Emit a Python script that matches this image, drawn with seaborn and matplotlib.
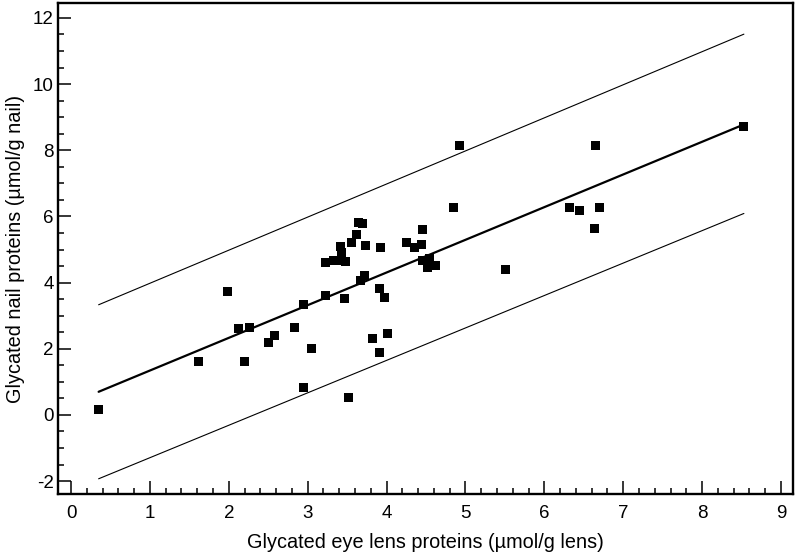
import numpy as np
import pandas
import seaborn as sns
from matplotlib import pyplot as plt
from matplotlib.ticker import MultipleLocator

lens_x = [0.35, 1.62, 1.99, 2.12, 2.20, 2.26, 2.50, 2.58, 2.83, 2.95,
          2.95, 3.05, 3.23, 3.47, 3.52, 3.67, 3.72, 3.82, 3.91, 3.91,
          3.97, 4.01, 3.22, 3.33, 3.38, 3.48, 3.42, 3.43, 3.55, 3.62,
          3.65, 3.70, 3.73, 3.92, 4.25, 4.36, 4.44, 4.46, 4.46, 4.54,
          4.52, 4.62, 4.92, 4.85, 5.51, 6.32, 6.45, 6.70, 6.65, 6.64,
          8.53]
nail_y = [0.17, 1.62, 3.72, 2.61, 1.63, 2.65, 2.20, 2.39, 2.63, 3.34,
          0.84, 2.00, 3.62, 3.51, 0.53, 4.05, 4.20, 2.32, 3.82, 1.88,
          3.54, 2.45, 4.61, 4.68, 4.67, 4.63, 5.08, 4.91, 5.22, 5.46,
          5.83, 5.80, 5.12, 5.06, 5.22, 5.07, 5.16, 5.61, 4.66, 4.73,
          4.45, 4.53, 8.14, 6.26, 4.41, 6.26, 6.18, 6.28, 8.14, 5.63,
          8.71]

# regression line and prediction limits (end points)
fit_x = [0.35, 8.53]
fit_y = [0.70, 8.78]
upper_y = [3.33, 11.51]
lower_y = [-1.93, 6.09]


def main():
    sns.set_theme(style='white')
    plt.rcParams['font.family'] = ['Liberation Sans', 'DejaVu Sans']
    plt.rcParams['axes.unicode_minus'] = False
    plt.rcParams['text.color'] = 'black'
    plt.rcParams['axes.labelcolor'] = 'black'
    plt.rcParams['xtick.color'] = 'black'
    plt.rcParams['ytick.color'] = 'black'

    points = pandas.DataFrame({'lens': lens_x, 'nail': nail_y})
    lines = pandas.DataFrame({'x': fit_x, 'fit': fit_y, 'upper': upper_y, 'lower': lower_y})

    fig = plt.figure(figsize=(8, 5.56), dpi=100)
    ax = fig.add_axes([0.0725, 0.1115, 0.9185, 0.883])

    sns.lineplot(data=lines, x='x', y='upper', color='black', linewidth=0.8, ax=ax)
    sns.lineplot(data=lines, x='x', y='lower', color='black', linewidth=0.8, ax=ax)
    sns.lineplot(data=lines, x='x', y='fit', color='black', linewidth=1.6, ax=ax)
    sns.scatterplot(data=points, x='lens', y='nail', marker='s', s=42,
                    color='black', edgecolor='none', ax=ax, zorder=3)

    ax.set_xlim(-0.165, 9.15)
    ax.set_ylim(-2.39, 12.45)
    ax.xaxis.set_major_locator(MultipleLocator(1))
    ax.xaxis.set_minor_locator(MultipleLocator(0.2))
    ax.yaxis.set_major_locator(MultipleLocator(2))
    ax.yaxis.set_minor_locator(MultipleLocator(0.5))
    ax.tick_params(which='both', direction='in', color='black', labelcolor='black',
                   width=1.1, bottom=True, left=True, top=False, right=False)
    ax.tick_params(which='major', length=9.5, labelsize=13.5)
    ax.tick_params(axis='x', which='major', pad=8)
    ax.tick_params(axis='y', which='major', pad=3)
    ax.tick_params(which='minor', length=4.5)

    for side in ['left', 'right', 'top', 'bottom']:
        ax.spines[side].set_visible(True)
        ax.spines[side].set_color('black')
        ax.spines[side].set_linewidth(1.7)

    ax.set_xlabel('Glycated eye lens proteins (µmol/g lens)', fontsize=14.3,
                  labelpad=8, color='black')
    ax.set_ylabel('Glycated nail proteins (µmol/g nail)', fontsize=14.3,
                  labelpad=6, color='black')

    plt.savefig('out.png', dpi=100)


if __name__ == '__main__':
    main()
